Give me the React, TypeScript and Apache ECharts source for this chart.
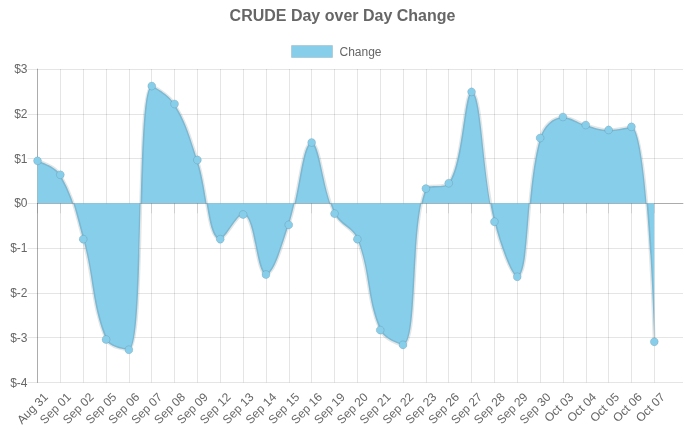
import React, { useEffect, useRef } from "react";
import * as echarts from "echarts";

const titleText = "CRUDE Day over Day Change";
const seriesName = "Change";
const categories = [
  "Aug 31", "Sep 01", "Sep 02", "Sep 05", "Sep 06", "Sep 07", "Sep 08", "Sep 09",
  "Sep 12", "Sep 13", "Sep 14", "Sep 15", "Sep 16", "Sep 19", "Sep 20", "Sep 21",
  "Sep 22", "Sep 23", "Sep 26", "Sep 27", "Sep 28", "Sep 29", "Sep 30", "Oct 03",
  "Oct 04", "Oct 05", "Oct 06", "Oct 07",
];
const values = [
  0.95, 0.64, -0.8, -3.04, -3.27, 2.62, 2.22, 0.97,
  -0.8, -0.25, -1.59, -0.48, 1.36, -0.23, -0.8, -2.83,
  -3.16, 0.33, 0.45, 2.49, -0.41, -1.64, 1.46, 1.93,
  1.75, 1.64, 1.71, -3.09,
];
const yMin = -4;
const yMax = 3;
const yStep = 1;

const FONT = "'Liberation Sans', Arial, Helvetica, sans-serif";
const FILL = "#87CEEB";
const GRID_COLOR = "rgba(0,0,0,0.1)";
const ZERO_COLOR = "rgba(0,0,0,0.25)";
const TEXT = "#666";

export default function App() {
  const ref = useRef<HTMLDivElement>(null);
  useEffect(() => {
    if (!ref.current) return;
    const chart = echarts.init(ref.current, undefined, { renderer: "svg" });
    const top = 69;
    const bottom = 56.5;
    const left = 37.5;
    chart.setOption({
      animation: false,
      textStyle: { fontFamily: FONT },
      title: {
        text: titleText,
        left: "center",
        top: 7,
        padding: 0,
        textStyle: { fontFamily: FONT, fontSize: 16, fontWeight: "bold", color: TEXT },
      },
      legend: {
        left: 291,
        top: 45,
        padding: 0,
        itemWidth: 41,
        itemHeight: 12,
        textStyle: { fontFamily: FONT, fontSize: 12, color: TEXT, padding: [0, 0, 0, 2] },
        data: [
          {
            name: seriesName,
            icon: "rect",
            itemStyle: { color: FILL, borderColor: GRID_COLOR, borderWidth: 1, opacity: 1 },
          },
        ],
      },
      grid: [
        { left, right: 30.7, top, bottom },
        { left, right: 2, top, bottom },
      ],
      xAxis: [
        {
          type: "category",
          gridIndex: 0,
          data: categories,
          boundaryGap: false,
          axisLine: { show: false },
          axisTick: { show: true, length: 10, interval: 0, lineStyle: { color: GRID_COLOR } },
          splitLine: { show: true, interval: 0, lineStyle: { color: GRID_COLOR } },
          axisLabel: {
            interval: 0,
            rotate: 45,
            margin: 4,
            verticalAlign: "top",
            lineHeight: 24,
            fontFamily: FONT,
            fontSize: 12,
            color: TEXT,
          },
        },
        {
          type: "value",
          gridIndex: 1,
          min: 0,
          max: 1,
          axisLine: { show: true, onZero: true, lineStyle: { color: ZERO_COLOR } },
          axisTick: { show: false },
          axisLabel: { show: false },
          splitLine: { show: false },
        },
      ],
      yAxis: [
        { type: "value", gridIndex: 0, min: yMin, max: yMax, interval: yStep, show: false },
        {
          type: "value",
          gridIndex: 1,
          min: yMin,
          max: yMax,
          interval: yStep,
          axisLine: { show: true, lineStyle: { color: ZERO_COLOR } },
          axisTick: { show: true, length: 10, lineStyle: { color: GRID_COLOR } },
          splitLine: { show: true, lineStyle: { color: GRID_COLOR } },
          axisLabel: {
            margin: 10,
            fontFamily: FONT,
            fontSize: 12,
            color: TEXT,
            formatter: (v: number) => "$" + v,
          },
        },
      ],
      series: [
        {
          type: "scatter",
          name: seriesName,
          xAxisIndex: 0,
          yAxisIndex: 0,
          data: [],
          itemStyle: { color: FILL, borderColor: GRID_COLOR, borderWidth: 1, opacity: 1 },
        },
        {
          type: "line",
          name: seriesName,
          xAxisIndex: 0,
          yAxisIndex: 0,
          data: values,
          smooth: 0.4,
          symbol: "circle",
          symbolSize: 8,
          showSymbol: true,
          lineStyle: { color: GRID_COLOR, width: 3 },
          itemStyle: { color: FILL, borderColor: GRID_COLOR, borderWidth: 1 },
          areaStyle: { color: FILL, opacity: 1 },
          emphasis: { disabled: true },
        },
      ],
    });
    return () => chart.dispose();
  }, []);
  return (
    <div
      ref={ref}
      style={{ position: "fixed", left: 0, top: 0, width: 685, height: 439 }}
    />
  );
}
